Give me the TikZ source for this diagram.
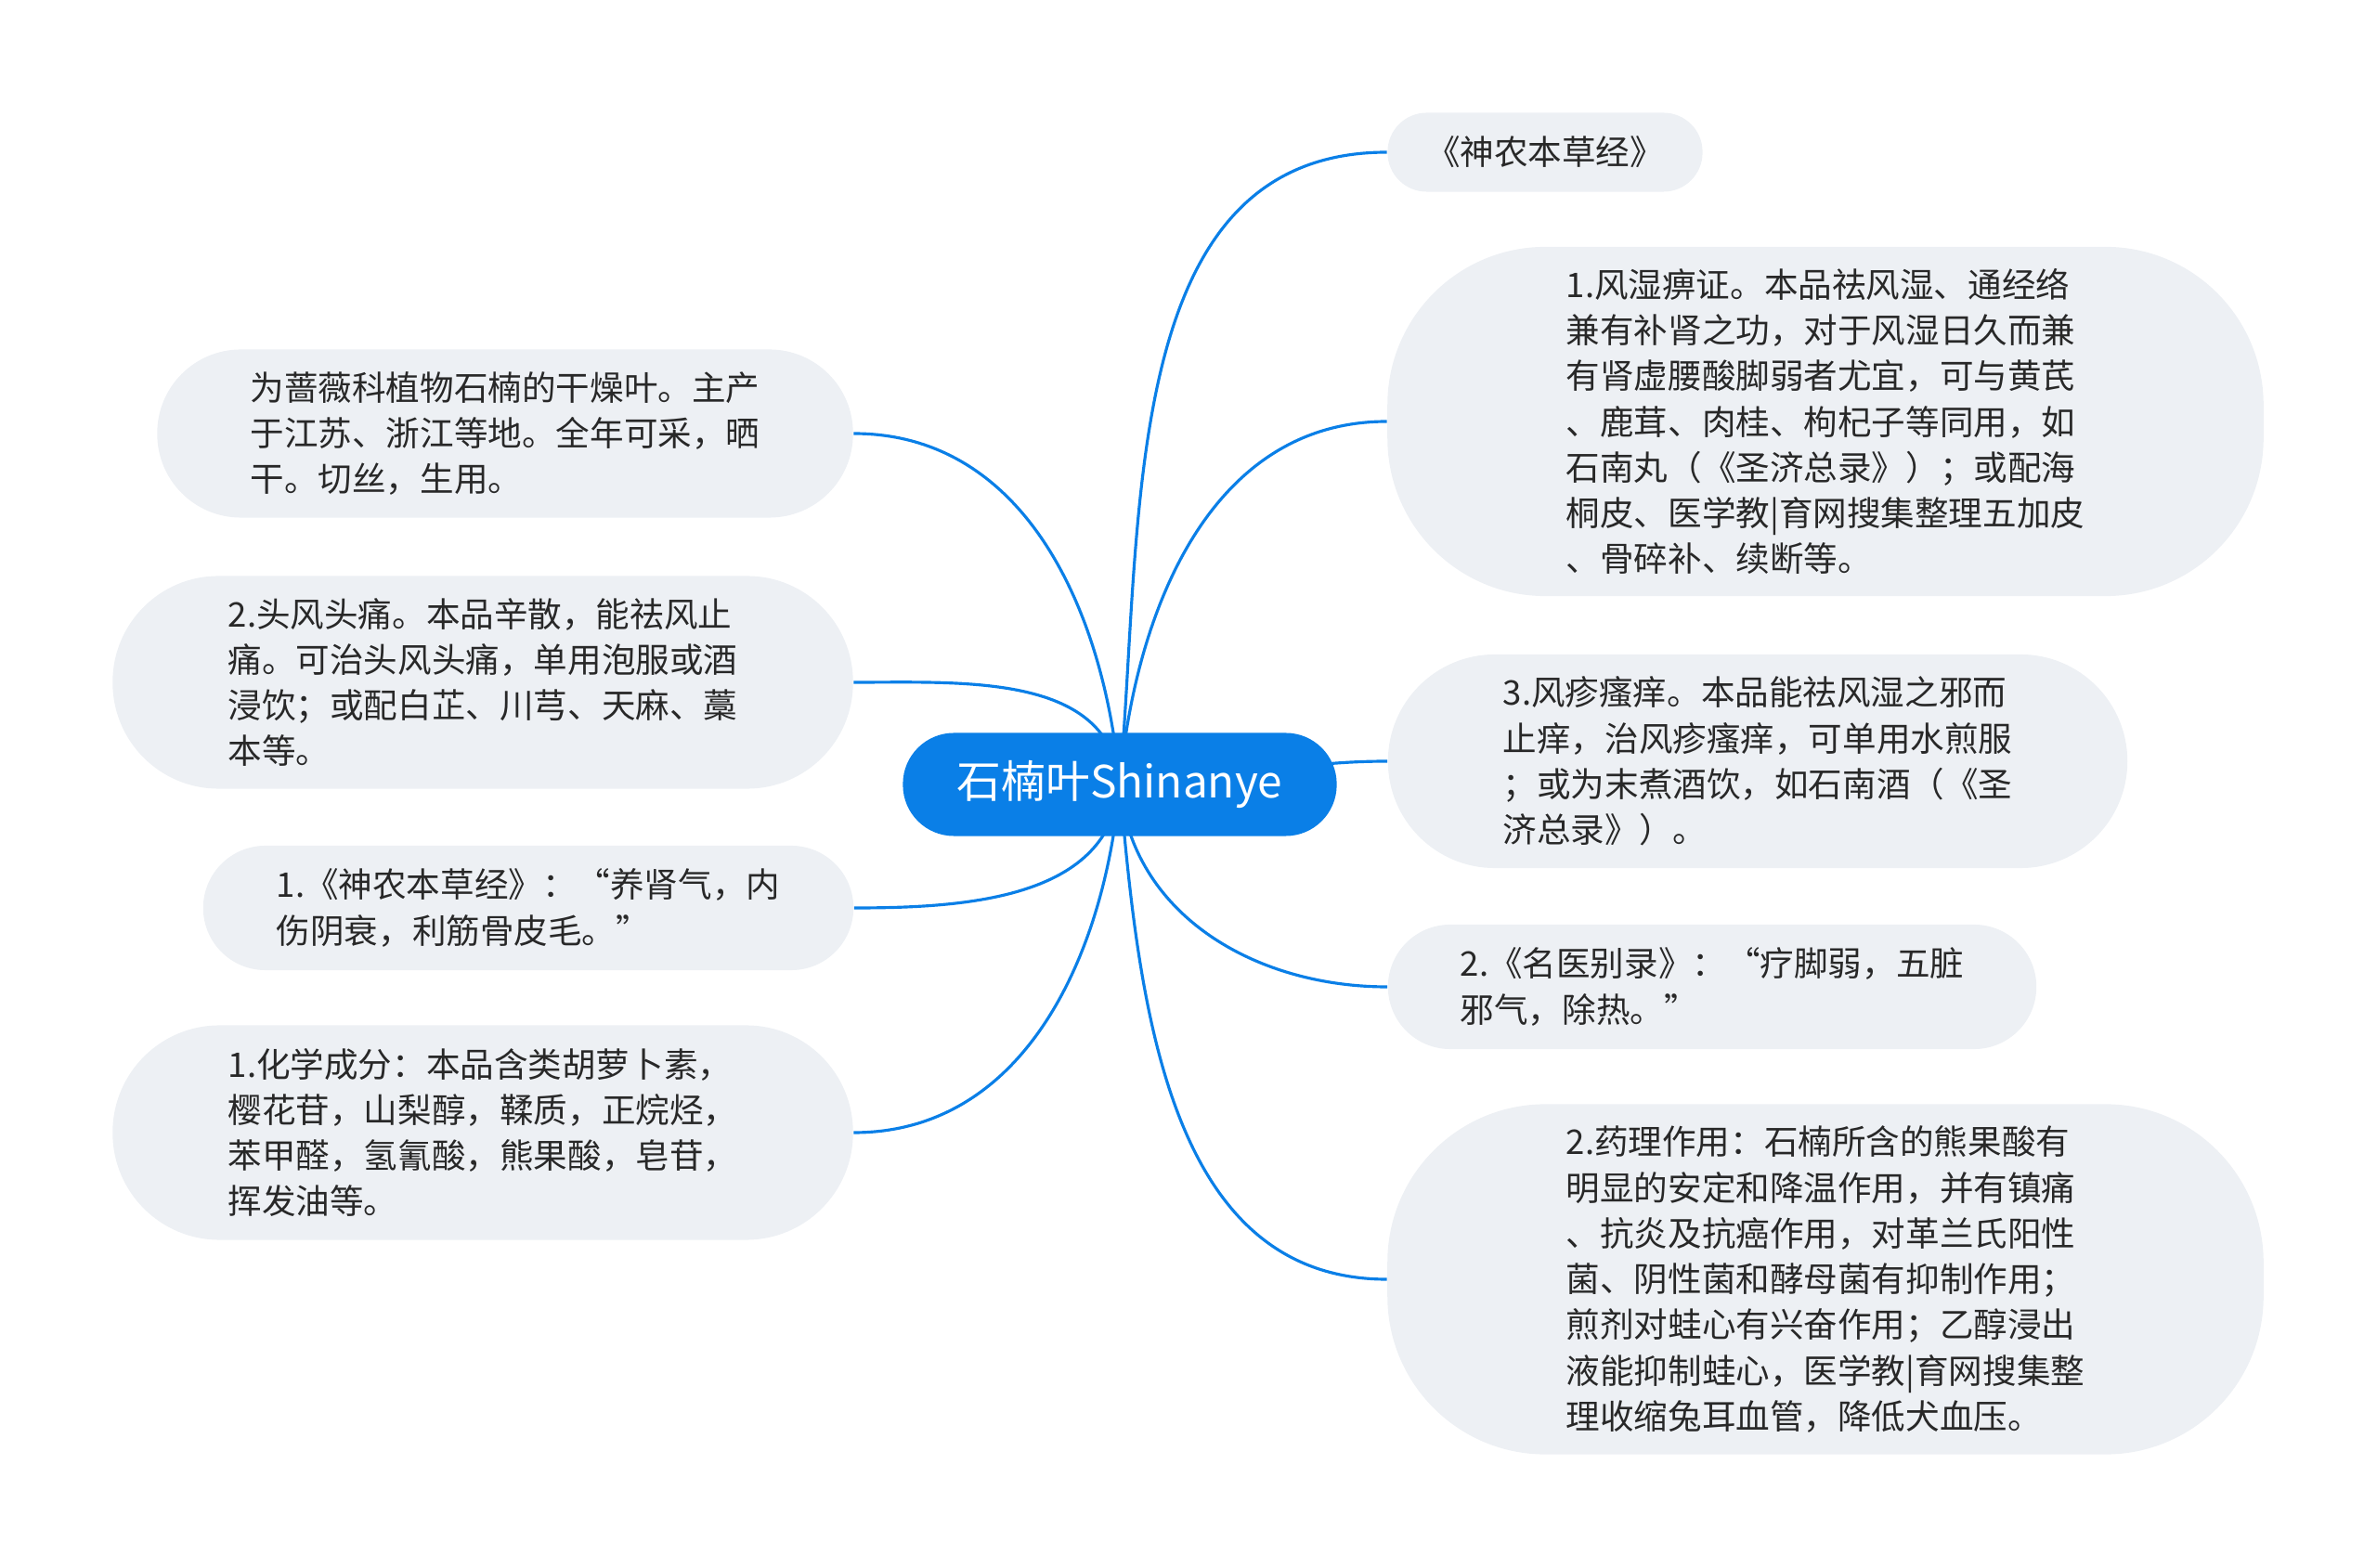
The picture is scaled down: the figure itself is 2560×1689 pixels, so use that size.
\documentclass[tikz,border=0pt]{standalone}
\usepackage{fontspec}
\setmainfont{Noto Sans CJK SC}
\definecolor{rootblue}{RGB}{10,127,231}
\definecolor{leafgray}{RGB}{237,240,244}
\definecolor{inkgray}{RGB}{40,40,40}

\begin{document}
\begin{tikzpicture}[x=0.01cm, y=-0.01cm,
    leaf/.style={fill=leafgray, text=inkgray, rounded corners=#1, align=left,
      inner sep=0pt, font=\fontsize{10.4}{14}\selectfont},
    link/.style={draw=rootblue, line width=0.9pt},
    rootbox/.style={fill=rootblue, text=white, rounded corners=0.55cm,
      minimum width=4.67cm, minimum height=1.11cm, font=\fontsize{13.6}{16}\selectfont}]
  \useasboundingbox (0,0) rectangle (2560,1689);
  \coordinate (c) at (1206,845);

  % Right branches
  \node[leaf=0.42cm, minimum width=3.39cm, minimum height=0.85cm] (r1) at (1664,164) {《神农本草经》};
  \node[leaf=1.7cm, minimum width=9.43cm, minimum height=3.76cm] (r2) at (1966,454)
    {1.风湿痹证。本品祛风湿、通经络\\兼有补肾之功，对于风湿日久而兼\\有肾虚腰酸脚弱者尤宜，可与黄芪\\、鹿茸、肉桂、枸杞子等同用，如\\石南丸（《圣济总录》）；或配海\\桐皮、医学教|育网搜集整理五加皮\\、骨碎补、续断等。};
  \node[leaf=1.15cm, minimum width=7.96cm, minimum height=2.30cm] (r3) at (1893,820)
    {3.风疹瘙痒。本品能祛风湿之邪而\\止痒，治风疹瘙痒，可单用水煎服\\；或为末煮酒饮，如石南酒（《圣\\济总录》）。};
  \node[leaf=0.67cm, minimum width=6.98cm, minimum height=1.34cm] (r4) at (1844,1063)
    {2.《名医别录》：“疗脚弱，五脏\\邪气，除热。”};
  \node[leaf=1.7cm, minimum width=9.43cm, minimum height=3.77cm] (r5) at (1966,1378)
    {2.药理作用：石楠所含的熊果酸有\\明显的安定和降温作用，并有镇痛\\、抗炎及抗癌作用，对革兰氏阳性\\菌、阴性菌和酵母菌有抑制作用；\\煎剂对蛙心有兴奋作用；乙醇浸出\\液能抑制蛙心，医学教|育网搜集整\\理收缩兔耳血管，降低犬血压。};

  % Left branches
  \node[leaf=0.9cm, minimum width=7.49cm, minimum height=1.81cm] (l1) at (544,467)
    {为蔷薇科植物石楠的干燥叶。主产\\于江苏、浙江等地。全年可采，晒\\干。切丝，生用。};
  \node[leaf=1.14cm, minimum width=7.97cm, minimum height=2.29cm] (l2) at (520,735)
    {2.头风头痛。本品辛散，能祛风止\\痛。可治头风头痛，单用泡服或酒\\浸饮；或配白芷、川芎、天麻、藁\\本等。};
  \node[leaf=0.67cm, minimum width=7.00cm, minimum height=1.34cm] (l3) at (569,978)
    {1.《神农本草经》：“养肾气，内\\伤阴衰，利筋骨皮毛。”};
  \node[leaf=1.15cm, minimum width=7.97cm, minimum height=2.31cm] (l4) at (520,1220)
    {1.化学成分：本品含类胡萝卜素，\\樱花苷，山梨醇，鞣质，正烷烃，\\苯甲醛，氢氰酸，熊果酸，皂苷，\\挥发油等。};

  % Connectors
  \draw[link] (c) to[out=85, in=180] (r1.west);
  \draw[link] (c) to[out=85, in=180] (r2.west);
  \draw[link] (c) to[out=0, in=180] (r3.west);
  \draw[link] (c) to[out=-85, in=180] (r4.west);
  \draw[link] (c) to[out=-85, in=180] (r5.west);
  \draw[link] (c) to[out=95, in=0] (l1.east);
  \draw[link] (c) to[out=95, in=0] (l2.east);
  \draw[link] (c) to[out=-95, in=0] (l3.east);
  \draw[link] (c) to[out=-95, in=0] (l4.east);

  % Root
  \node[rootbox] (root) at (c) {石楠叶Shinanye};
\end{tikzpicture}
\end{document}
